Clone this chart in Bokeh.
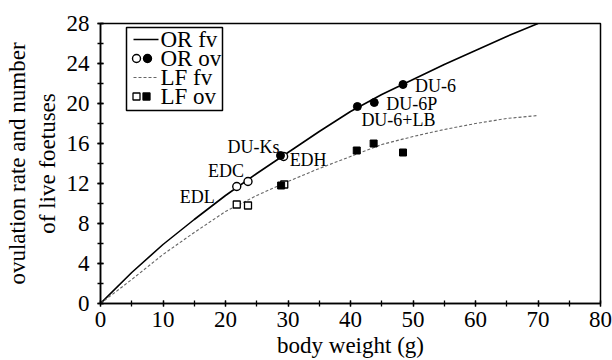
from bokeh.plotting import figure
from bokeh.models import (SingleIntervalTicker, ColumnDataSource, Range1d, BoxAnnotation,
                          Label, Arrow)
from bokeh.core.properties import value
from bokeh.embed import file_html
from bokeh.resources import INLINE

# ---- data ----
curve_x = [0, 5, 10, 15, 20, 25, 30, 35, 40, 45, 50, 55, 60, 65, 70]
or_fv = [0, 3.1, 5.9, 8.4, 10.8, 13.0, 15.1, 17.2, 19.2, 20.9, 22.4, 23.9, 25.3, 26.7, 28.0]
lf_fv = [0, 2.4, 4.9, 7.1, 9.2, 10.8, 12.2, 13.5, 14.7, 15.9, 16.7, 17.4, 18.0, 18.5, 18.8]

or_open_x = [21.8, 23.6, 29.3]
or_open_y = [11.7, 12.2, 14.7]
or_fill_x = [28.8, 41.1, 43.8, 48.4]
or_fill_y = [14.8, 19.7, 20.1, 21.9]

lf_open_x = [21.8, 23.6, 29.4]
lf_open_y = [9.9, 9.8, 11.9]
lf_fill_x = [28.9, 41.0, 43.7, 48.4]
lf_fill_y = [11.8, 15.3, 16.0, 15.1]

line_names = ["EDL", "EDC", "DU-Ks", "EDH", "DU-6+LB", "DU-6P", "DU-6"]
name_x = [21.8, 23.6, 28.8, 29.3, 41.1, 43.8, 48.4]
name_y = [11.7, 12.2, 14.8, 14.7, 19.7, 20.1, 21.9]

legend_labels = ["OR fv", "OR ov", "LF fv", "LF ov"]

x_ticks_interval = 10
y_ticks_interval = 4

# ---- layout / style (pixels) ----
name_align = ["right", "right", "right", "left", "left", "left", "left"]
name_dx = [-22, -4, -1, 6, 4, 12, 12]
name_dy = [10, -11, -9, 3, 13, 1, 1]

FONT = "Liberation Serif"
BLACK = "black"
GREY = "#666666"

p = figure(width=612, height=360, x_range=Range1d(0, 80), y_range=Range1d(0, 28),
           output_backend="svg", toolbar_location=None,
           min_border_left=100, min_border_right=12, min_border_top=23, min_border_bottom=57)
p.xgrid.visible = False
p.ygrid.visible = False
p.outline_line_color = BLACK
p.outline_line_width = 1.5
p.background_fill_color = "white"
p.border_fill_color = "white"

p.line(curve_x, or_fv, line_color=BLACK, line_width=1.6)
p.line(curve_x, lf_fv, line_color=GREY, line_width=1.1, line_dash="3 2")
p.scatter(or_open_x, or_open_y, marker="circle", size=8, fill_color="white",
          line_color=BLACK, line_width=1.4)
p.scatter(or_fill_x, or_fill_y, marker="circle", size=8, fill_color=BLACK,
          line_color=BLACK, line_width=1)
p.scatter(lf_open_x, lf_open_y, marker="square", size=7, fill_color="white",
          line_color=BLACK, line_width=1.3)
p.scatter(lf_fill_x, lf_fill_y, marker="square", size=7, fill_color=BLACK,
          line_color=BLACK, line_width=1)

src = ColumnDataSource(dict(x=name_x, y=name_y, text=line_names, align=name_align,
                            dx=name_dx, dy=name_dy))
p.text(x="x", y="y", text="text", source=src, text_align="align", x_offset="dx", y_offset="dy",
       text_baseline="middle", text_font=value(FONT), text_font_size="18px", text_color=BLACK)

# ---- legend box (screen units, relative to the plot frame, y upwards) ----
LX0, LX1, LY0, LY1 = 26, 122, 193, 276
row_y = [264, 245, 226, 207]
text_x = 60

def sbox(left, right, bottom, top, **kw):
    return BoxAnnotation(left=left, right=right, bottom=bottom, top=top,
                         left_units="screen", right_units="screen",
                         bottom_units="screen", top_units="screen", **kw)

p.add_layout(sbox(LX0, LX1, LY0, LY1, fill_color="white", fill_alpha=1,
                  line_color=BLACK, line_width=1.5, line_alpha=1))

# line samples
p.add_layout(Arrow(x_start=33, x_end=58, y_start=row_y[0], y_end=row_y[0],
                   start_units="screen", end_units="screen", start=None, end=None,
                   line_color=BLACK, line_width=1.6))
p.add_layout(Arrow(x_start=33, x_end=58, y_start=row_y[2], y_end=row_y[2],
                   start_units="screen", end_units="screen", start=None, end=None,
                   line_color=GREY, line_width=1.1, line_dash="3 2"))
# marker samples
for cx, fill in ((36, "white"), (47, BLACK)):
    p.add_layout(sbox(cx - 4, cx + 4, row_y[1] - 4, row_y[1] + 4, border_radius=4,
                      fill_color=fill, fill_alpha=1, line_color=BLACK, line_width=1.4,
                      line_alpha=1))
for cx, fill in ((36, "white"), (46, BLACK)):
    p.add_layout(sbox(cx - 3.5, cx + 3.5, row_y[3] - 3.5, row_y[3] + 3.5,
                      fill_color=fill, fill_alpha=1, line_color=BLACK, line_width=1.3,
                      line_alpha=1))
for lab, ry in zip(legend_labels, row_y):
    p.add_layout(Label(x=text_x, y=ry, x_units="screen", y_units="screen", text=lab,
                       text_baseline="middle", text_align="left", text_font=FONT,
                       text_font_size="23px", text_color=BLACK))

p.xaxis.ticker = SingleIntervalTicker(interval=x_ticks_interval, num_minor_ticks=2)
p.yaxis.ticker = SingleIntervalTicker(interval=y_ticks_interval, num_minor_ticks=2)
p.xaxis.axis_label = "body weight (g)"
p.yaxis.axis_label = "ovulation rate and number\nof live foetuses"
for ax in (p.xaxis, p.yaxis):
    ax.axis_line_color = BLACK
    ax.axis_line_width = 1.5
    ax.major_tick_line_color = BLACK
    ax.minor_tick_line_color = BLACK
    ax.major_tick_line_width = 1.3
    ax.minor_tick_line_width = 1.3
    ax.major_tick_in = 3
    ax.major_tick_out = 3
    ax.minor_tick_in = 3
    ax.minor_tick_out = 3
    ax.major_label_text_font = FONT
    ax.major_label_text_font_size = "23px"
    ax.major_label_text_color = BLACK
    ax.axis_label_text_font = FONT
    ax.axis_label_text_font_size = "23px"
    ax.axis_label_text_font_style = "normal"
    ax.axis_label_text_color = BLACK
p.xaxis.major_label_standoff = 5
p.xaxis.axis_label_standoff = 3
p.yaxis.major_label_standoff = 8
p.yaxis.axis_label_standoff = 4

open("out.html", "w").write(file_html(p, INLINE))
